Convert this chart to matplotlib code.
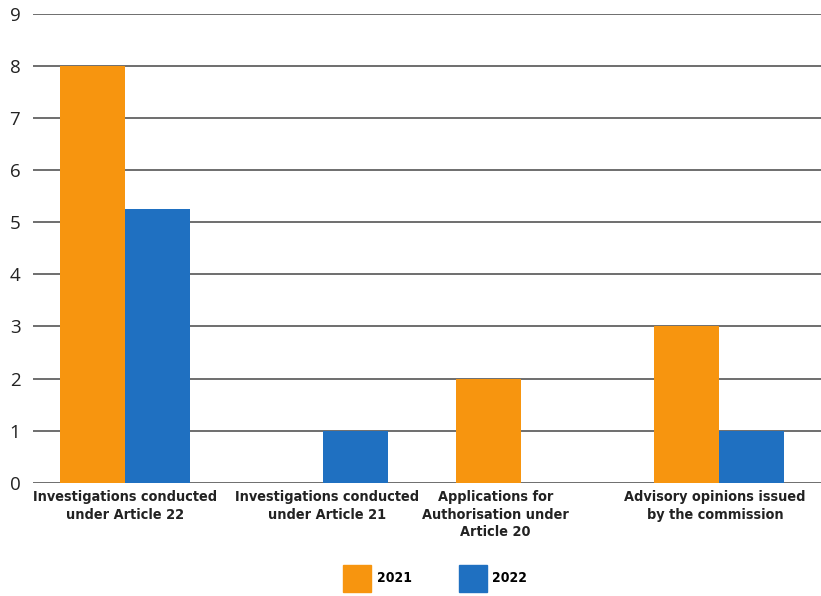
import numpy as np
import matplotlib.pyplot as plt
from matplotlib.patches import Patch

categories = ["Investigations conducted\nunder Article 22",
              "Investigations conducted\nunder Article 21",
              "Applications for\nAuthorisation under\nArticle 20",
              "Advisory opinions issued\nby the commission"]
years = ["2021", "2022"]
v2021 = [8, 0, 2, 3]
v2022 = [5.25, 1, 0, 1]
yticks = list(range(0, 10))

orange = '#F7950F'
blue = '#1F70C1'

fig = plt.figure(figsize=(8.21, 5.96), dpi=100)
ax = fig.add_axes([0.040, 0.19, 0.96, 0.787])

x = np.arange(len(categories))
w = 0.33
ax.bar(x - w/2, v2021, w, color=orange, zorder=3)
ax.bar(x + w/2, v2022, w, color=blue, zorder=3)

ax.set_xlim(-0.465, 3.515)
ax.set_ylim(0, 9)
ax.set_yticks(yticks)
ax.set_yticklabels([str(t) for t in yticks], fontsize=13.5, color='#222222',
                   family='Open Sans')
ax.yaxis.grid(True, color='#6e6e6e', linewidth=1.4, zorder=0)
ax.tick_params(axis='y', length=0, pad=9)
ax.tick_params(axis='x', length=0, pad=5)
for s in ax.spines.values():
    s.set_visible(False)

# label 3 sits a bit left of its group centre in the original
ax.set_xticks([0, 1.02, 1.87, 2.98])
ax.set_xticklabels(categories, fontsize=10.4, fontweight='bold',
                   family='DejaVu Sans', fontstretch='condensed',
                   color='#222222', linespacing=1.35)

handles = [Patch(color=orange), Patch(color=blue)]
leg = fig.legend(handles, years, loc='center', bbox_to_anchor=(0.53, 0.03),
                 ncol=2, frameon=False, handlelength=2.0, handleheight=2.6,
                 columnspacing=3.4, handletextpad=0.4,
                 prop={'family': 'DejaVu Sans', 'stretch': 'condensed',
                       'weight': 'bold', 'size': 10})

fig.savefig('out.png', dpi=100)
